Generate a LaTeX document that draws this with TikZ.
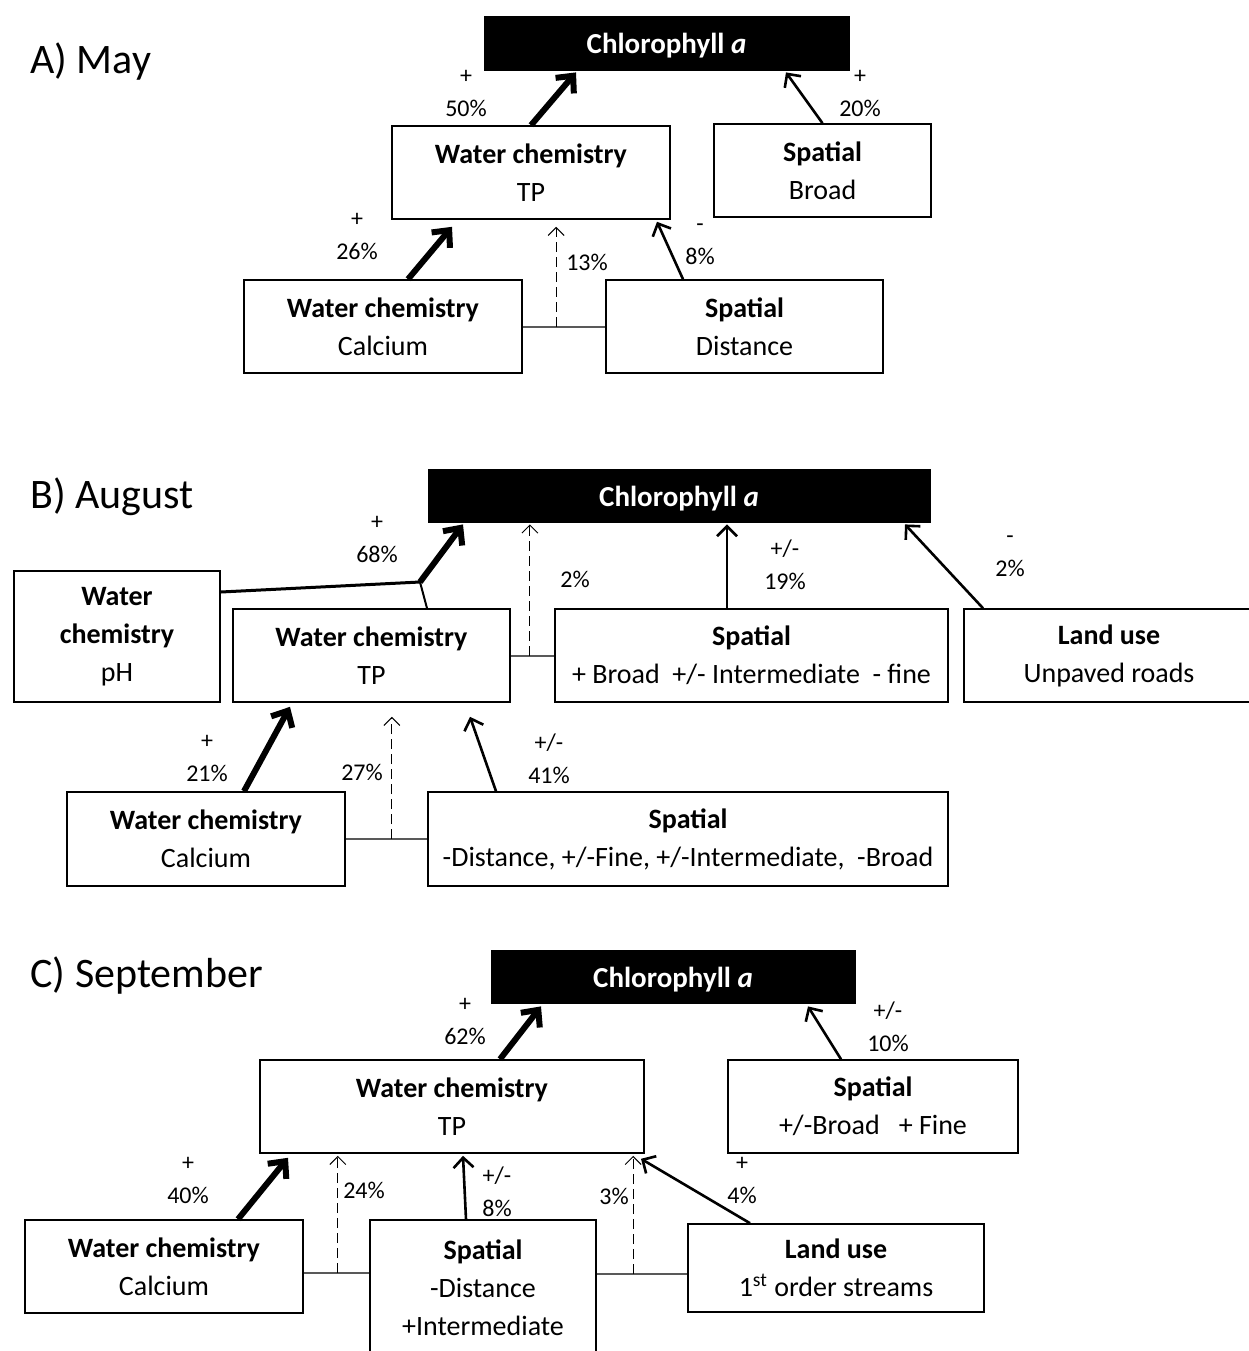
\documentclass[tikz,border=0pt]{standalone}
\usepackage{fontspec}
\setmainfont{Carlito}
\usetikzlibrary{arrows.meta,calc}

\begin{document}
\begin{tikzpicture}[x=0.5pt,y=-0.5pt,
    box/.style={draw,line width=0.8pt,align=center,inner sep=0pt,font=\fontsize{14}{19}\selectfont},
    chlbox/.style={fill=black,draw=black,text=white,inner sep=0pt,text height=13.5pt,text depth=3pt,font=\bfseries\fontsize{14.5}{17}\selectfont},
    panel/.style={anchor=west,inner sep=0pt,font=\fontsize{21}{24}\selectfont},
    pct/.style={align=center,inner sep=0pt,font=\fontsize{12}{16.5}\selectfont},
    bigarrow/.style={line width=3pt,-{Straight Barb[length=6.5pt,width=12pt]}},
    arrow/.style={line width=1.3pt,-{Straight Barb[length=5pt,width=10pt]}},
    dasharrow/.style={line width=0.5pt,dash pattern=on 5pt off 2.5pt,-{Straight Barb[length=4pt,width=8pt]}},
    joinline/.style={line width=1pt,black!65}]

    \useasboundingbox (0,0) rectangle (1249,1351);

    % A) May
    \node[panel] (titleA) at (30,62) {A) May};
    \node[chlbox, minimum width=182.5pt, minimum height=27pt] (chlA) at (666.5,43) {Chlorophyll \textit{a}};
    \node[box, minimum width=139pt, minimum height=46.5pt] (tpA) at (531,172.5) {\textbf{Water chemistry}\\TP};
    \node[box, minimum width=108.5pt, minimum height=46.5pt] (broadA) at (822.5,170.5) {\textbf{Spatial}\\Broad};
    \node[box, minimum width=139pt, minimum height=46.5pt] (caA) at (383,326.5) {\textbf{Water chemistry}\\Calcium};
    \node[box, minimum width=138.5pt, minimum height=46.5pt] (distA) at (744.5,326.5) {\textbf{Spatial}\\Distance};

    \draw[bigarrow] (tpA.north) -- ([xshift=-45.25pt,yshift=-1pt]chlA.south);
    \draw[arrow] (broadA.north) -- ([xshift=59.75pt,yshift=-1pt]chlA.south);
    \draw[bigarrow] ([xshift=12.5pt]caA.north) -- ([xshift=-39.5pt,yshift=-3.5pt]tpA.south);
    \draw[arrow] ([xshift=-30.75pt]distA.north) -- ([xshift=63pt,yshift=-1pt]tpA.south);
    \draw[joinline] (caA.east) -- (distA.west);
    \coordinate (jA) at ($(caA.east)!0.405!(distA.west)$);
    \draw[dasharrow] (jA) -- ([yshift=-3.5pt]jA |- tpA.south);

    \node[pct] (lA1) at (466,93.5) {+\\50\%};
    \node[pct] (lA2) at (860,93.5) {+\\20\%};
    \node[pct] (lA3) at (357,236) {+\\26\%};
    \node[pct] (lA4) at (700,244.5) {-\\8\%};
    \node[pct] (lA5) at (587,262) {13\%};

    % B) August
    \node[panel] (titleB) at (30,497) {B) August};
    \node[chlbox, minimum width=251pt, minimum height=26.5pt] (chlB) at (679,495.5) {Chlorophyll \textit{a}};
    \node[box, minimum width=103pt, minimum height=65.5pt] (phB) at (117,636.5) {\textbf{Water}\\\textbf{chemistry}\\pH};
    \node[box, minimum width=138.5pt, minimum height=46.5pt] (tpB) at (371.5,655.5) {\textbf{Water chemistry}\\TP};
    \node[box, minimum width=196.5pt, minimum height=46.5pt] (spB) at (751.5,655.5) {\textbf{Spatial}\\+ Broad\ \ +/- Intermediate\ \ - fine};
    \node[box, minimum width=145pt, minimum height=46.5pt] (luB) at (1109,655.5) {\textbf{Land use}\\Unpaved roads};
    \node[box, minimum width=139pt, minimum height=47pt] (caB) at (206,839) {\textbf{Water chemistry}\\Calcium};
    \node[box, minimum width=260pt, minimum height=47pt] (spdB) at (688,839) {\textbf{Spatial}\\-Distance, +/-Fine, +/-Intermediate,\ \ -Broad};

    \coordinate (kB) at (420,582);
    \draw[line width=1.5pt] ([yshift=22.25pt]phB.east) -- (kB);
    \draw[line width=1pt] ([xshift=27.75pt]tpB.north) -- (kB);
    \draw[bigarrow] (kB) -- ([xshift=-108pt,yshift=-1pt]chlB.south);
    \draw[joinline] (tpB.east) -- (spB.west);
    \coordinate (jB) at ($(tpB.east)!0.44!(spB.west)$);
    \draw[dasharrow] (jB) -- ([yshift=-1pt]jB |- chlB.south);
    \draw[arrow] ([xshift=-12.25pt]spB.north) -- ([xshift=-12.25pt,yshift=-1pt]spB.north |- chlB.south);
    \draw[arrow] ([xshift=-63pt]luB.north) -- ([xshift=113pt,yshift=-1pt]chlB.south);
    \draw[bigarrow] ([xshift=19pt]caB.north) -- ([xshift=-40.75pt,yshift=-2pt]tpB.south);
    \draw[joinline] (caB.east) -- (spdB.west);
    \coordinate (jB2) at ($(caB.east)!0.566!(spdB.west)$);
    \draw[dasharrow] (jB2) -- ([yshift=-7pt]jB2 |- tpB.south);
    \draw[arrow] ([xshift=-96pt]spdB.north) -- ([xshift=49.25pt,yshift=-7pt]tpB.south);

    \node[pct] (lB1) at (377,539) {+\\68\%};
    \node[pct] (lB2) at (575,579) {2\%};
    \node[pct] (lB3) at (785,565) {+/-\\19\%};
    \node[pct] (lB4) at (1010,556.5) {-\\2\%};
    \node[pct] (lB5) at (207,758.5) {+\\21\%};
    \node[pct] (lB6) at (362,772) {27\%};
    \node[pct] (lB7) at (549,758.5) {+/-\\41\%};

    % C) September
    \node[panel] (titleC) at (30,976) {C) September};
    \node[chlbox, minimum width=182pt, minimum height=26.5pt] (chlC) at (673,976.5) {Chlorophyll \textit{a}};
    \node[box, minimum width=192pt, minimum height=46.5pt] (tpC) at (452,1106.5) {\textbf{Water chemistry}\\TP};
    \node[box, minimum width=145pt, minimum height=46.5pt] (spC) at (873,1106.5) {\textbf{Spatial}\\+/-Broad\ \ \ + Fine};
    \node[box, minimum width=139pt, minimum height=46.5pt] (caC) at (164,1266.5) {\textbf{Water chemistry}\\Calcium};
    \node[box, minimum width=113pt, minimum height=68pt] (spdC) at (483,1288) {\textbf{Spatial}\\-Distance\\+Intermediate};
    \node[box, minimum width=148pt, minimum height=44pt] (luC) at (836,1268) {\textbf{Land use}\\1\textsuperscript{st} order streams};

    \draw[bigarrow] ([xshift=24pt]tpC.north) -- ([xshift=-66pt,yshift=-1.5pt]chlC.south);
    \draw[arrow] ([xshift=-16pt]spC.north) -- ([xshift=67.5pt,yshift=-1.5pt]chlC.south);
    \draw[bigarrow] ([xshift=37pt]caC.north) -- ([xshift=-82pt,yshift=-2pt]tpC.south);
    \draw[joinline] ([yshift=-3.25pt]caC.east) -- ([yshift=-3.25pt]caC.east -| spdC.west);
    \coordinate (jC1) at ([xshift=17pt,yshift=-3.25pt]caC.east);
    \draw[dasharrow] (jC1) -- ([yshift=-1pt]jC1 |- tpC.south);
    \draw[arrow] ([xshift=-8.5pt]spdC.north) -- ([xshift=5.5pt,yshift=-1pt]tpC.south);
    \draw[joinline] ([yshift=-3pt]luC.west) -- ([yshift=-3pt]luC.west -| spdC.east);
    \coordinate (jC2) at ([xshift=-27pt,yshift=-3pt]luC.west);
    \draw[dasharrow] (jC2) -- ([yshift=-1pt]jC2 |- tpC.south);
    \draw[arrow] ([xshift=-43pt]luC.north) -- ([xshift=94.5pt,yshift=-2.5pt]tpC.south);

    \node[pct] (lC1) at (465,1021) {+\\62\%};
    \node[pct] (lC2) at (888,1026.5) {+/-\\10\%};
    \node[pct] (lC3) at (188,1180) {+\\40\%};
    \node[pct] (lC4) at (364,1190) {24\%};
    \node[pct] (lC5) at (497,1191.5) {+/-\\8\%};
    \node[pct] (lC6) at (614,1196) {3\%};
    \node[pct] (lC7) at (742,1180) {+\\4\%};

\end{tikzpicture}
\end{document}
